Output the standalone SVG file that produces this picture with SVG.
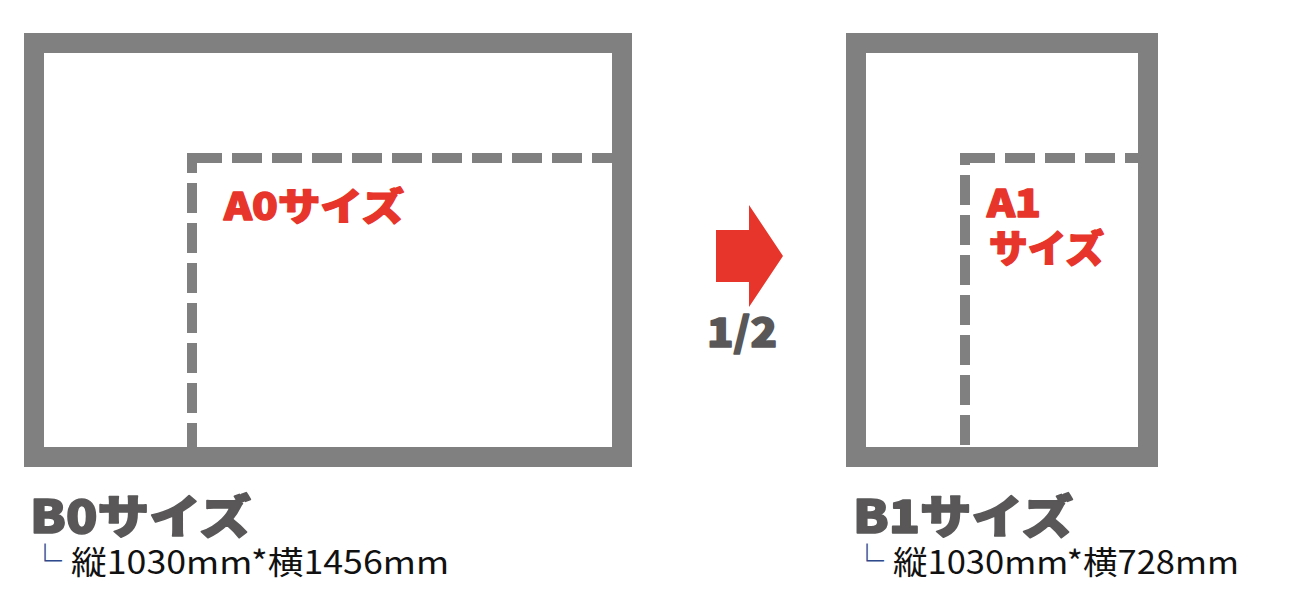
<svg xmlns="http://www.w3.org/2000/svg" width="1306" height="608" viewBox="0 0 1306 608">
<style>
.frame{fill:none;stroke:#808080;stroke-width:20}
.dash{fill:none;stroke:#808080;stroke-width:10;stroke-dasharray:30 10}
.head{font-family:"Noto Sans CJK JP","Liberation Sans",sans-serif;font-weight:900;fill:#595757;stroke:#595757;stroke-width:1.6;stroke-linejoin:round}
.red{font-family:"Noto Sans CJK JP","Liberation Sans",sans-serif;font-weight:900;fill:#E8352B;stroke:#E8352B;stroke-width:1.4;stroke-linejoin:round}
.sub{font-family:"Noto Sans CJK JP",sans-serif;font-weight:400;fill:#111;font-size:32px;stroke:none}
.mark{font-family:"Noto Sans CJK JP",sans-serif;font-weight:400;fill:#2E4A8C;font-size:34px;stroke:none}
</style>
<rect width="1306" height="608" fill="#fff"/>
<g id="b0">
  <line class="dash" x1="192" y1="453" x2="192" y2="153"/>
  <line class="dash" x1="192" y1="158" x2="612" y2="158"/>
  <rect class="frame" x="34" y="43" width="588" height="414"/>
  <text class="red" x="224" y="220" font-size="38" textLength="180" lengthAdjust="spacingAndGlyphs">A0サイズ</text>
  <text class="head" font-size="46"><tspan x="30" y="533" textLength="221" lengthAdjust="spacingAndGlyphs">B0サイズ</tspan><tspan class="mark" x="28" y="574">└</tspan><tspan class="sub" x="71" y="574" textLength="378" lengthAdjust="spacingAndGlyphs">縦1030mm*横1456mm</tspan></text>
</g>
<g id="b1">
  <line class="dash" x1="965" y1="445" x2="965" y2="153"/>
  <line class="dash" x1="965" y1="158" x2="1138" y2="158"/>
  <rect class="frame" x="856" y="43" width="292" height="414"/>
  <text class="red" font-size="38"><tspan x="987" y="217" textLength="54" lengthAdjust="spacingAndGlyphs">A1</tspan><tspan x="989" y="262" textLength="115" lengthAdjust="spacingAndGlyphs">サイズ</tspan></text>
  <text class="head" font-size="46"><tspan x="853" y="533" textLength="220" lengthAdjust="spacingAndGlyphs">B1サイズ</tspan><tspan class="mark" x="850" y="574">└</tspan><tspan class="sub" x="893" y="574" textLength="346" lengthAdjust="spacingAndGlyphs">縦1030mm*横728mm</tspan></text>
</g>
<g id="connectors">
  <polygon points="716,230 749,230 749,205 783,256 749,307 749,282 716,282" fill="#E8352B"/>
  <text class="head" x="707" y="347" font-size="40" textLength="70" lengthAdjust="spacingAndGlyphs">1/2</text>
</g>
</svg>
